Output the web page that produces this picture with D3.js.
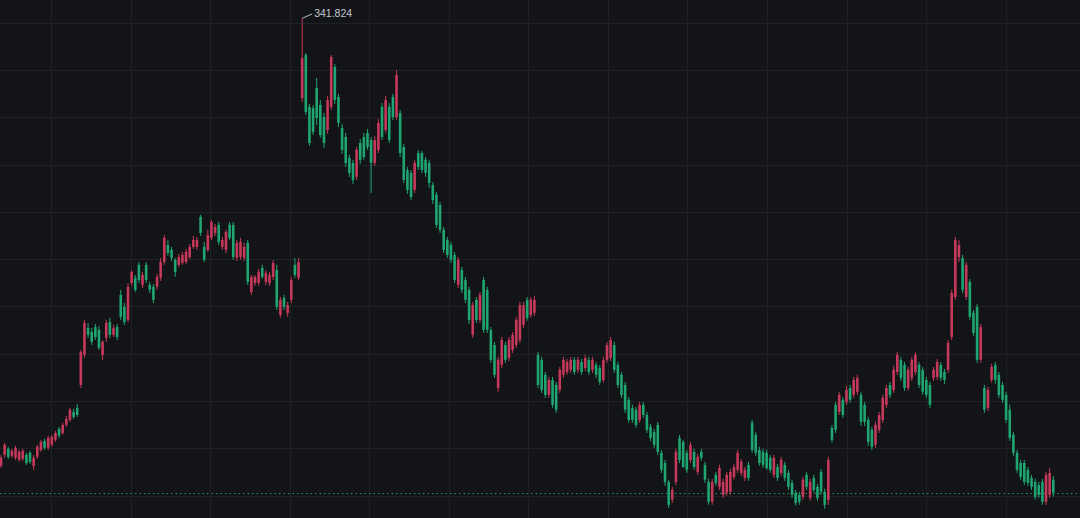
<!DOCTYPE html>
<html><head><meta charset="utf-8">
<script src="https://cdn.jsdelivr.net/npm/d3@7"></script>
<style>html,body{margin:0;padding:0;background:#131417;overflow:hidden}</style>
</head><body><svg id="c" width="1080" height="518"></svg>
<script>
const opens=[152.6,157.2,159.8,156.8,156.0,155.1,155.5,157.2,158.1,152.6,
156.4,159.3,163.1,160.2,161.5,163.6,168.2,166.5,169.9,172.0,
175.4,177.1,186.8,199.5,210.9,209.2,211.3,210.1,199.5,206.7,
213.4,208.0,211.3,224.9,219.8,214.3,229.9,232.1,237.6,229.1,
237.6,229.1,228.3,228.3,232.1,238.8,246.0,243.9,239.7,237.6,
238.4,238.8,240.9,245.2,245.2,257.9,245.2,243.9,249.0,251.1,
254.5,245.2,243.9,254.5,254.5,240.5,240.9,240.5,246.9,226.1,
229.9,229.9,236.3,230.4,229.9,232.5,235.4,216.4,223.6,217.3,
222.8,237.6,232.1,308.2,326.3,304.4,303.9,312.4,305.2,300.1,
294.6,304.4,321.3,308.6,295.5,291.7,282.8,280.7,274.8,289.1,
291.7,293.4,290.4,280.7,286.2,304.4,294.6,304.4,308.6,300.1,
301.8,287.4,277.7,276.5,269.3,284.9,284.9,282.0,280.7,271.4,
267.2,262.9,252.4,248.1,246.0,241.8,229.1,235.4,231.2,227.0,
208.0,222.8,214.3,231.2,227.0,210.1,203.7,185.5,195.3,203.7,
198.2,201.6,203.7,205.8,212.2,222.8,216.4,217.3,199.5,197.4,
191.1,182.6,188.9,186.8,184.7,191.1,192.3,193.2,197.4,193.2,
196.5,194.0,197.4,193.2,195.3,194.0,188.9,197.4,198.2,203.7,
195.3,191.1,186.8,180.5,177.1,176.3,172.0,178.4,174.1,169.1,
166.9,169.9,158.1,153.8,145.8,138.2,145.8,164.4,162.7,158.1,
155.1,158.5,150.0,158.5,153.0,145.8,137.4,148.8,143.7,140.3,
141.2,141.6,147.9,150.9,149.6,147.5,153.0,170.8,165.7,159.3,
158.5,158.1,156.0,148.8,152.1,149.6,153.0,149.6,145.4,141.2,
140.3,139.5,148.8,139.0,147.5,143.7,150.0,141.6,138.2,168.6,
178.4,175.4,180.5,179.6,185.5,182.6,183.9,182.6,178.4,172.0,
167.8,161.5,167.8,172.0,178.4,186.8,184.7,192.3,197.4,195.3,
185.5,189.8,192.3,195.3,193.2,188.9,186.8,189.8,190.2,195.3,
192.3,193.2,207.1,224.0,240.9,240.5,224.0,230.4,217.3,219.8,
197.4,185.5,177.1,188.9,195.3,191.1,186.8,182.6,176.3,165.7,
158.1,153.8,153.8,150.9,147.5,145.8,144.5,145.8,137.4,140.3,
146.7];
const highs=[157.2,162.3,160.6,159.8,161.0,159.3,159.8,158.1,158.9,157.2,
161.5,163.6,164.0,165.3,165.7,167.4,169.1,170.8,173.7,177.1,
176.7,178.8,201.6,214.3,213.0,210.9,212.6,211.7,205.8,214.3,
215.2,212.2,212.6,227.0,221.5,229.9,235.4,233.3,238.8,234.6,
238.8,230.4,229.5,233.8,240.5,250.2,248.1,245.2,240.5,242.2,
243.1,244.3,246.4,249.8,249.4,258.7,247.3,252.4,256.6,254.9,
255.7,249.4,252.4,255.7,255.7,248.1,249.0,246.9,248.1,233.3,
233.3,235.9,237.6,235.4,234.6,239.7,237.6,224.0,224.9,221.9,
232.5,240.5,240.5,341.824,327.2,305.6,305.2,316.6,307.3,301.8,
309.0,326.3,322.5,309.9,297.2,293.4,284.1,282.0,287.4,290.8,
293.4,295.1,291.7,292.1,299.3,306.0,309.0,306.0,309.9,320.0,
303.1,288.7,279.0,277.7,282.0,286.2,285.8,283.2,282.0,272.6,
268.4,264.2,253.6,249.4,247.3,243.1,240.9,236.7,232.5,228.3,
221.9,224.0,226.1,232.5,228.3,211.3,205.0,198.7,207.1,205.0,
207.1,209.2,215.6,221.9,221.9,224.0,224.0,224.5,200.8,198.7,
192.3,190.2,190.2,188.1,194.4,198.7,197.8,198.7,198.7,198.7,
197.8,199.5,198.7,198.7,196.5,195.3,198.7,205.0,207.1,205.0,
196.5,192.3,188.1,181.7,178.4,177.5,179.6,179.6,175.4,170.4,
168.2,171.2,159.3,155.1,146.7,143.7,159.8,165.7,163.6,159.3,
162.7,159.8,157.6,159.8,154.3,147.1,147.1,150.0,153.0,147.1,
150.0,151.3,153.4,159.3,155.5,152.1,154.3,172.0,167.0,160.6,
159.8,159.3,157.2,157.2,153.4,156.4,154.3,150.9,146.7,142.4,
141.6,147.9,150.0,147.1,148.8,145.0,151.3,142.9,156.4,169.9,
179.6,183.9,181.7,186.4,186.8,190.2,191.1,183.9,179.6,173.3,
169.1,171.2,175.4,182.6,186.8,188.1,194.9,200.8,198.7,196.5,
194.4,198.7,200.8,196.5,194.4,190.2,188.1,194.4,197.8,196.5,
193.6,205.8,227.0,249.4,248.1,241.8,238.8,231.6,218.5,221.1,
212.6,186.8,186.0,195.7,196.5,192.3,188.1,183.9,178.4,167.0,
159.3,155.1,155.1,152.1,148.8,147.1,145.8,147.1,150.0,151.7,
148.3];
const lows=[151.7,156.0,155.5,156.0,155.1,154.3,154.7,153.0,153.4,150.9,
155.5,158.5,159.3,159.3,160.6,162.7,164.4,165.7,169.1,171.2,
172.4,173.3,185.5,198.2,206.7,203.7,205.8,201.6,197.4,205.0,
206.7,207.1,205.8,214.3,212.2,213.4,228.7,226.1,229.9,227.8,
229.9,225.7,221.5,227.0,230.8,237.6,241.4,239.2,232.5,236.7,
237.6,238.0,240.1,244.3,243.9,249.8,238.8,243.1,248.1,249.8,
246.0,243.9,242.6,248.1,239.7,239.2,239.7,239.2,229.1,224.9,
228.7,228.7,231.6,229.1,228.7,231.2,218.5,215.2,218.5,215.6,
221.5,232.1,231.2,306.5,301.0,287.9,292.5,296.8,291.3,287.0,
293.0,303.1,305.6,295.9,284.5,279.0,274.8,271.8,273.5,280.3,
282.0,286.2,268.0,279.4,284.9,290.4,293.4,289.1,298.9,298.9,
283.2,272.2,267.6,265.0,268.0,277.7,276.5,274.8,270.1,263.4,
253.2,251.1,242.6,240.5,238.4,229.9,227.8,225.7,221.5,212.6,
206.7,213.0,213.0,208.8,208.8,196.1,189.8,183.9,194.0,196.1,
196.9,200.3,202.5,204.6,210.9,213.9,215.2,216.0,185.5,183.4,
181.3,181.3,177.1,175.0,183.4,189.8,191.1,191.9,191.1,191.9,
191.1,192.7,191.1,191.9,189.8,186.8,187.7,196.1,196.9,191.9,
185.5,181.3,175.0,170.8,170.8,168.7,170.8,172.9,166.5,163.1,
160.2,157.2,149.6,144.1,134.8,136.9,144.5,153.8,151.7,149.6,
153.8,150.9,148.8,154.7,145.4,136.1,136.1,144.1,142.4,139.0,
139.9,140.3,146.7,149.6,148.3,146.2,146.2,158.1,156.8,152.6,
151.7,150.9,149.6,147.5,146.2,148.3,146.2,142.4,139.0,135.7,
136.1,138.2,142.4,137.8,141.2,137.8,140.3,134.4,136.1,162.3,
166.5,174.1,172.9,178.4,179.2,181.3,182.6,169.5,169.5,161.0,
159.3,160.2,166.5,170.8,177.1,181.3,183.4,191.1,188.5,184.3,
184.3,188.5,191.1,185.5,182.6,181.3,177.1,188.5,188.9,188.5,
187.2,191.9,205.8,222.8,238.8,225.7,222.8,214.3,207.5,196.1,
196.1,175.0,175.8,187.7,187.2,181.3,179.2,170.8,163.1,156.8,
149.6,146.7,144.5,144.1,142.4,138.2,139.0,136.1,136.1,139.0,
139.5];
const closes=[156.0,161.5,156.4,158.9,160.2,158.5,158.9,153.8,154.3,156.0,
160.6,162.7,160.2,164.4,164.8,166.5,165.3,169.9,172.4,176.3,
173.3,174.1,200.8,213.0,208.0,205.0,207.1,202.5,205.0,213.0,
208.0,210.9,207.1,215.6,213.4,228.3,234.6,227.0,231.2,233.3,
231.2,227.0,222.8,232.5,238.8,249.0,242.6,240.5,234.6,240.9,
241.8,243.1,245.2,248.1,248.1,251.1,239.7,250.2,255.7,253.6,
247.3,248.1,251.5,249.0,240.9,246.9,247.3,245.2,230.4,232.5,
232.5,234.6,232.5,234.2,233.3,238.4,219.8,222.8,219.8,220.6,
231.2,233.3,238.8,325.1,302.2,289.1,293.8,299.7,292.5,289.1,
307.3,325.5,307.3,297.6,286.2,280.7,276.5,273.5,286.2,282.0,
283.2,287.4,280.7,290.4,297.6,291.7,307.3,290.4,300.1,317.9,
284.9,273.5,269.3,266.3,280.7,279.0,277.7,276.5,272.2,265.0,
254.5,252.4,243.9,241.8,239.7,231.2,239.7,227.0,222.8,214.3,
220.6,214.3,224.9,210.1,210.1,197.4,191.1,197.4,205.8,197.4,
205.8,208.0,214.3,220.6,220.6,215.2,222.8,222.8,186.8,184.7,
182.6,188.9,178.4,176.3,193.2,197.4,196.5,197.4,192.3,197.4,
192.3,198.2,192.3,197.4,191.1,188.1,197.4,203.7,205.8,193.2,
186.8,182.6,176.3,172.0,172.0,169.9,178.4,174.1,167.8,164.4,
161.5,158.5,150.9,145.8,136.1,142.4,158.5,155.1,152.1,150.9,
161.5,152.1,156.4,156.0,146.7,137.4,145.8,145.4,151.7,145.8,
148.8,150.0,152.1,158.1,154.3,150.9,147.5,159.3,158.1,153.8,
153.0,151.7,150.9,156.0,147.5,155.1,147.5,143.7,140.3,136.9,
137.4,146.7,143.7,145.8,142.4,139.0,141.6,136.1,155.1,163.6,
167.8,182.6,174.1,184.7,180.5,188.9,189.8,171.2,171.2,162.7,
160.6,169.9,174.1,181.3,185.5,182.6,193.2,199.5,189.8,185.5,
193.2,197.4,199.5,186.8,183.9,182.6,178.4,193.2,196.5,189.8,
188.9,204.6,225.7,248.1,246.0,227.0,237.6,215.6,208.8,197.4,
211.3,176.3,184.7,194.4,188.9,182.6,180.5,172.0,164.4,158.1,
150.9,148.0,145.8,145.4,143.7,139.5,140.3,137.4,148.8,149.6,
141.2];
const gridPrices=[140,160,180,200,220,240,260,280,300,320,340];

const W=1080,H=518;
const UP='#c5395a', DOWN='#1fa571', BG='#131417', GRID='#1f2125';
const svg=d3.select('#c');
svg.append('rect').attr('width',W).attr('height',H).attr('fill',BG);

const n=opens.length;
const x=d3.scaleLinear().domain([0,n-1]).range([1,1053.3]);
const y=d3.scaleLinear().domain([140,340]).range([495.6,22.7]);

// grid
const g=svg.append('g');
g.selectAll('line.h').data(gridPrices).join('line')
 .attr('x1',0).attr('x2',W)
 .attr('y1',d=>Math.round(y(d))+0.5).attr('y2',d=>Math.round(y(d))+0.5)
 .attr('stroke',GRID).attr('stroke-width',1);
const vGrid=d3.range(13).map(k=>51+k*79.55);
g.selectAll('line.v').data(vGrid).join('line')
 .attr('y1',0).attr('y2',H)
 .attr('x1',d=>Math.round(d)+0.5).attr('x2',d=>Math.round(d)+0.5)
 .attr('stroke',GRID).attr('stroke-width',1);

// last price line
const last=closes[n-1];
const lastUp=closes[n-1]>=opens[n-1];
svg.append('line').attr('x1',0).attr('x2',W)
 .attr('y1',Math.round(y(last))+0.5).attr('y2',Math.round(y(last))+0.5)
 .attr('stroke',lastUp?UP:DOWN).attr('stroke-opacity',0.9)
 .attr('stroke-dasharray','1.5,3');

// candles
const idx=d3.range(n);
const bw=2.6;
const cg=svg.append('g');
cg.selectAll('line.w').data(idx).join('line')
 .attr('x1',i=>x(i)).attr('x2',i=>x(i))
 .attr('y1',i=>y(highs[i])).attr('y2',i=>y(lows[i]))
 .attr('stroke',i=>closes[i]>=opens[i]?UP:DOWN).attr('stroke-width',1);
cg.selectAll('rect').data(idx).join('rect')
 .attr('x',i=>x(i)-bw/2).attr('width',bw)
 .attr('y',i=>y(Math.max(opens[i],closes[i])))
 .attr('height',i=>Math.max(1,Math.abs(y(opens[i])-y(closes[i]))))
 .attr('fill',i=>closes[i]>=opens[i]?UP:DOWN);

// peak label
const maxH=d3.max(highs), mi=highs.indexOf(maxH);
const px=x(mi), py=y(maxH);
svg.append('line').attr('x1',px).attr('y1',py).attr('x2',px+10).attr('y2',py-4.5)
 .attr('stroke','#b8bcc4').attr('stroke-width',1);
svg.append('text').attr('x',px+12).attr('y',py-1)
 .attr('font-family','Liberation Sans, Arial, sans-serif').attr('font-size','10.5px')
 .attr('fill','#c3c7cf').text(maxH.toFixed(3));
</script></body></html>
